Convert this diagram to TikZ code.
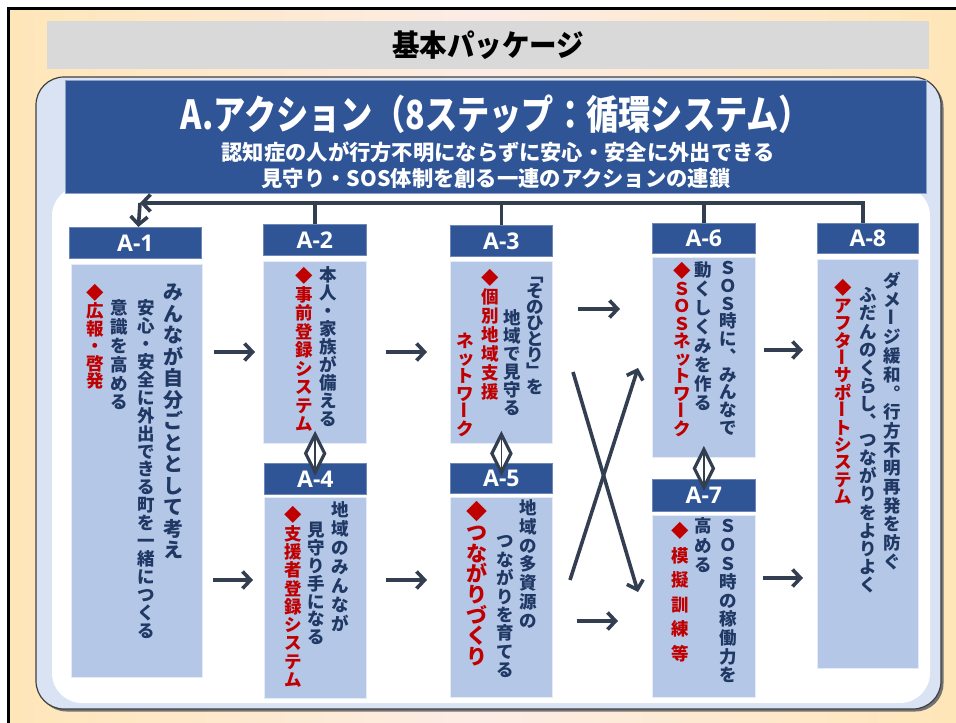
\documentclass[tikz,border=0pt]{standalone}
\usepackage{fontspec}
\usepackage{graphicx}
\setmainfont{Noto Sans CJK JP}
\newfontfamily\labfont{Open Sans}
\usetikzlibrary{arrows.meta,calc}
\definecolor{hdr}{HTML}{2F5597}
\definecolor{bodyc}{HTML}{B4C7E7}
\definecolor{cont}{HTML}{DAE3F3}
\definecolor{grayb}{HTML}{D9D9D9}
\definecolor{navy}{HTML}{203864}
\definecolor{redc}{HTML}{C00000}
\definecolor{linec}{HTML}{333F50}
\definecolor{bgY}{HTML}{FFE6B8}
\definecolor{bgP}{HTML}{FCECE6}
\ExplSyntaxOn
\NewDocumentCommand\vcol{mm}{
  \vbox{\XeTeXuseglyphmetrics=0\offinterlineskip
    \tl_map_inline:nn {#2} {\hbox to 1em{\hss\vbox to #1pt{\vss\hbox{##1}\vss}\hss}}
  }
}
\ExplSyntaxOff
\newcommand\vbar{\makebox[1em]{\rotatebox[origin=c]{-90}{ー}}}
\newcommand\vsk[1]{\makebox[1em]{\raisebox{0.05em}[\height][\depth]{\kern0.18em#1}}}
\newcommand\vtext[7]{%
  \node[anchor=north, inner sep=0pt, text=#6, font={\fontsize{#5}{#5}\selectfont\bfseries}] (#1) at (#2,{#3-#4/2+0.4*#5}) {\vcol{#4}{#7}};}
\begin{document}
\begin{tikzpicture}[x=1pt,y=-1pt,
  hdrbox/.style={fill=hdr, draw=hdr!70!white, line width=0.8pt, inner sep=0pt, anchor=north west, text=white, font={\labfont\fontsize{23}{23}\selectfont\bfseries}},
  bodybox/.style={fill=bodyc, draw=white!65!bodyc, line width=0.8pt, inner sep=0pt, anchor=north west},
  conn/.style={draw=linec, line width=3.6pt},
  arr/.style={conn, -{Straight Barb[length=8pt,width=17pt]}},
  dm/.style={draw=linec, line width=3.2pt, fill=white, line join=miter},
]
\useasboundingbox (0,0) rectangle (956,723);
\fill[white] (0,0) rectangle (956,723);
\shade[left color=bgY, right color=bgY, middle color=bgP] (8,8) rectangle (956,723);
\draw[line width=2.6pt] (8.3,723) -- (8.3,8.3) -- (956,8.3);
% title bar
\node[fill=grayb, inner sep=0pt, anchor=north west, minimum width=882, minimum height=48] (tbar) at (47,21) {};
\node[font={\fontsize{30}{30}\selectfont\bfseries}, inner sep=0pt] (ttl) at (tbar.center) {\resizebox{192pt}{\height}{基本パッケージ}};
% container
\fill[black!55, rounded corners=28pt] (38.5,79.5) rectangle (943.5,711.5);
\draw[fill=cont, draw=black!75, line width=1.2pt, rounded corners=28pt] (36,77) rectangle (941,709);
\fill[white, rounded corners=30pt] (52,186) rectangle (930,703);
% header
\node[fill=hdr, draw=hdr!55!white, line width=1pt, inner sep=0pt, anchor=north west, minimum width=861, minimum height=113] (hd) at (65,80) {};
\node[text=white, inner sep=0pt, font={\fontsize{40}{40}\selectfont\bfseries}] (ht) at (496,114.5) {\resizebox{630pt}{\height}{A.アクション（8ステップ：循環システム）}};
\node[text=white, inner sep=0pt, font={\fontsize{21.3}{21.3}\selectfont\bfseries}] (hs1) at (498,152.5) {認知症の人が行方不明にならずに安心・安全に外出できる};
\node[text=white, inner sep=0pt, font={\fontsize{21.3}{21.3}\selectfont\bfseries}] (hs2) at (496,178.5) {見守り・SOS体制を創る一連のアクションの連鎖};
% step headers
\node[hdrbox, minimum width=132, minimum height=31] (A1h) at (69,227) {A-1};
\node[hdrbox, minimum width=103, minimum height=31] (A2h) at (263,224) {A-2};
\node[hdrbox, minimum width=102, minimum height=31] (A4h) at (264,463) {A-4};
\node[hdrbox, minimum width=102, minimum height=31] (A3h) at (450,225) {A-3};
\node[hdrbox, minimum width=102, minimum height=30] (A5h) at (450,463) {A-5};
\node[hdrbox, minimum width=103, minimum height=30] (A6h) at (652,223) {A-6};
\node[hdrbox, minimum width=103, minimum height=32] (A7h) at (652,479) {A-7};
\node[hdrbox, minimum width=101, minimum height=30] (A8h) at (817,223) {A-8};
% step bodies
\node[bodybox, minimum width=131, minimum height=413] (A1b) at (71,264) {};
\node[bodybox, minimum width=103, minimum height=182] (A2b) at (263,261) {};
\node[bodybox, minimum width=102, minimum height=201] (A4b) at (264,497) {};
\node[bodybox, minimum width=102, minimum height=182] (A3b) at (450,261) {};
\node[bodybox, minimum width=102, minimum height=200] (A5b) at (450,497) {};
\node[bodybox, minimum width=103, minimum height=200] (A6b) at (652,257) {};
\node[bodybox, minimum width=103, minimum height=182] (A7b) at (652,515) {};
\node[bodybox, minimum width=101, minimum height=409] (A8b) at (817,259) {};
% top loop connector
\coordinate (topL) at (0,203);
\coordinate (cornerL) at (140,203);
\draw[conn] (A2h.north) -- (A2h.north |- topL);
\draw[conn] (A3h.north) -- (A3h.north |- topL);
\draw[conn] (A6h.north) -- (A6h.north |- topL);
\draw[arr] ([xshift=-5pt]A8h.north) -- ([xshift=-5pt]A8h.north |- topL) -- (cornerL);
\draw[arr] (cornerL) -- ([xshift=3pt]A1h.north);
% horizontal arrows
\coordinate (yA) at (0,352);
\coordinate (yB) at (0,309);
\coordinate (yC) at (0,350);
\coordinate (yD) at (0,580);
\coordinate (yE) at (0,621);
\coordinate (yF) at (0,578);
\draw[arr, shorten <=11pt, shorten >=8pt] (A1b.east |- yA) -- (A2b.west |- yA);
\draw[arr, shorten <=19pt, shorten >=23pt] (A2b.east |- yA) -- (A3b.west |- yA);
\draw[arr, shorten <=25pt, shorten >=32pt] (A3b.east |- yB) -- (A6b.west |- yB);
\draw[arr, shorten <=8pt, shorten >=14pt] (A6b.east |- yC) -- (A8b.west |- yC);
\draw[arr, shorten <=10pt, shorten >=11pt] (A1b.east |- yD) -- (A4b.west |- yD);
\draw[arr, shorten <=19pt, shorten >=23pt] (A4b.east |- yD) -- (A5b.west |- yD);
\draw[arr, shorten <=24pt, shorten >=34pt] (A5b.east |- yE) -- (A7b.west |- yE);
\draw[arr, shorten <=7pt, shorten >=14pt] (A7b.east |- yF) -- (A8b.west |- yF);
% cross arrows
\coordinate (c1s) at (573,372);
\coordinate (c1e) at (638,592);
\coordinate (c2s) at (570,580);
\coordinate (c2e) at (638,368);
\draw[arr] (c1s) -- (c1e);
\draw[arr] (c2s) -- (c2e);
% double diamond connectors
\foreach \u/\l in {A2b/A4h, A3b/A5h, A6b/A7h}{
  \coordinate (m) at ($(\u.south)!0.5!(\l.north)$);
  \draw[dm] (m) ++(0,-19) -- ++(9.5,19) -- ++(-9.5,19) -- ++(-9.5,-19) -- cycle;
  \draw[draw=linec, line width=1.6pt] (m) ++(0,-16) -- ++(0,32);
}
% vertical texts
\vtext{A1c1}{173}{283}{21.5}{20}{navy}{みんなが自分ごととして考え}
\vtext{A1c2}{146}{300}{17.9}{17.5}{navy}{安心・安全に外出できる町を一緒につくる}
\vtext{A1c3}{119}{300}{18.8}{17.5}{navy}{意識を高める}
\vtext{A1c4}{95}{285}{17.6}{17.5}{redc}{◆広報・啓発}
\vtext{A2c1}{328}{267}{18}{17.5}{navy}{本人・家族が備える}
\vtext{A2c2}{304}{268}{18.5}{17.5}{redc}{◆事前登録システム}
\vtext{A4c1}{340}{502}{19}{17.5}{navy}{地域のみんなが}
\vtext{A4c2}{316}{522}{17.8}{17.5}{navy}{見守り手になる}
\vtext{A4c3}{293}{507}{18.3}{17.5}{redc}{◆支援者登録システム}
\vtext{A3c1}{535}{267}{16}{17.5}{navy}{﹁そのひとり﹂を}
\vtext{A3c2}{512}{310}{18}{17.5}{navy}{地域で見守る}
\vtext{A3c3}{490}{270}{19}{17.5}{redc}{◆個別地域支援}
\vtext{A3c4}{465}{333}{17.5}{17.5}{redc}{ネ{\vsk{ッ}}トワ{\vbar}ク}
\vtext{A5c1}{528}{500}{18.7}{17.5}{navy}{地域の多資源の}
\vtext{A5c2}{505}{533}{18.4}{17.5}{navy}{つながりを育てる}
\vtext{A5c3}{477}{502}{20.7}{21}{redc}{◆つながりづくり}
\vtext{A6c1}{728}{260}{17.7}{17.5}{navy}{ＳＯＳ時に︑みんなで}
\vtext{A6c2}{703}{262}{18.9}{17.5}{navy}{動くしくみを作る}
\vtext{A6c3}{682}{263}{17.5}{17.5}{redc}{◆ＳＯＳネ{\vsk{ッ}}トワ{\vbar}ク}
\vtext{A7c1}{728}{518}{18.6}{17.5}{navy}{ＳＯＳ時の稼働力を}
\vtext{A7c2}{703}{518}{19.5}{17.5}{navy}{高める}
\vtext{A7c3}{680}{523}{24.5}{17.5}{redc}{◆模擬訓練等}
\vtext{A8c1}{892}{273}{18.7}{17.5}{navy}{ダメ{\vbar}ジ緩和︒行方不明再発を防ぐ}
\vtext{A8c2}{868}{287}{18.1}{17.5}{navy}{ふだんのくらし︑つながりをよりよく}
\vtext{A8c3}{843}{280}{17.4}{17.5}{redc}{◆アフタ{\vbar}サポ{\vbar}トシステム}
\end{tikzpicture}
\end{document}
